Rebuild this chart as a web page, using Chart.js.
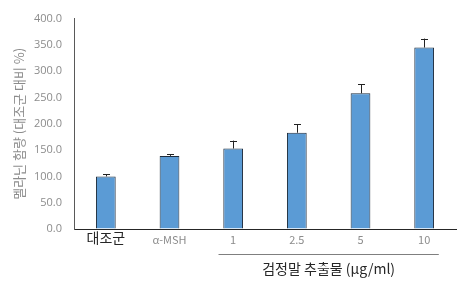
<!DOCTYPE html>
<html><head><meta charset="utf-8">
<script src="https://cdn.jsdelivr.net/npm/chart.js@4"></script>
<style>html,body{margin:0;padding:0;background:#fff}#wrap{width:470px;height:282px}</style>
</head><body><div id="wrap"><canvas id="c" width="470" height="282"></canvas></div>
<script>
const categories = ['대조군', 'α-MSH', '1', '2.5', '5', '10'];
const melaninValues = [100, 139, 153, 183, 258, 345];
const errorValues = [4, 3, 15, 16, 17, 17];
const yTicks = [0, 50, 100, 150, 200, 250, 300, 350, 400];
const yTitle = '멜라닌 함량 (대조군 대비 %)';
const groupLabel = '검정말 추출물 (μg/ml)';
const groupStart = 2, groupEnd = 5;

const FONT = "'Noto Sans CJK KR', 'Open Sans', sans-serif";

const errorBars = {
  id: 'errorBars',
  afterDatasetsDraw(chart) {
    const ctx = chart.ctx, y = chart.scales.y;
    const meta = chart.getDatasetMeta(0);
    ctx.save();
    ctx.strokeStyle = '#222';
    ctx.lineWidth = 1;
    meta.data.forEach((bar, i) => {
      const x = Math.round(bar.x) + 0.5;
      const top = y.getPixelForValue(melaninValues[i]);
      const up = y.getPixelForValue(melaninValues[i] + errorValues[i]);
      ctx.beginPath();
      ctx.moveTo(x, top);
      ctx.lineTo(x, up);
      ctx.moveTo(x - 3.5, Math.round(up) + 0.5);
      ctx.lineTo(x + 3.5, Math.round(up) + 0.5);
      ctx.stroke();
    });
    ctx.restore();
  }
};

const groupPlugin = {
  id: 'groupPlugin',
  afterDraw(chart) {
    const ctx = chart.ctx, xs = chart.scales.x;
    const w = xs.getPixelForValue(1) - xs.getPixelForValue(0);
    const x1 = xs.getPixelForValue(groupStart) - w * 0.23;
    const x2 = xs.getPixelForValue(groupEnd) + w * 0.23;
    const ly = Math.round(xs.top + 25) + 0.5;
    ctx.save();
    ctx.strokeStyle = '#7f7f7f';
    ctx.lineWidth = 1;
    ctx.beginPath();
    ctx.moveTo(x1, ly);
    ctx.lineTo(x2, ly);
    ctx.stroke();
    ctx.fillStyle = '#262626';
    ctx.font = "14px " + FONT;
    ctx.textAlign = 'center';
    ctx.textBaseline = 'middle';
    ctx.fillText(groupLabel, (x1 + x2) / 2, xs.top + 40);
    ctx.restore();
  }
};

new Chart(document.getElementById('c'), {
  type: 'bar',
  data: {
    labels: categories,
    datasets: [{
      data: melaninValues,
      backgroundColor: '#5B9BD5',
      borderColor: '#1f2d3d',
      borderWidth: 1,
      borderSkipped: 'bottom',
      categoryPercentage: 1,
      barPercentage: 0.31
    }]
  },
  options: {
    responsive: false,
    animation: false,
    devicePixelRatio: 1,
    layout: { padding: { top: 13, right: 14, left: 0, bottom: 0 } },
    plugins: { legend: { display: false }, tooltip: { enabled: false } },
    scales: {
      x: {
        grid: { display: true, drawOnChartArea: false, drawTicks: false },
        border: { display: true, color: '#262626', width: 1 },
        afterFit(s) { s.height = 53; },
        ticks: {
          padding: 9,
          crossAlign: 'center',
          maxRotation: 0,
          autoSkip: false,
          font: (c) => c.index === 0 ? { size: 14, family: FONT } : { size: 11, family: FONT },
          color: (c) => c.index === 0 ? '#262626' : '#8c8c8c'
        }
      },
      y: {
        min: 0, max: 400,
        afterBuildTicks(s) { s.ticks = yTicks.map(v => ({ value: v })); },
        afterFit(s) { s.width = 74; },
        grid: { display: true, drawOnChartArea: false, drawTicks: false },
        border: { display: true, color: '#595959', width: 1 },
        ticks: {
          padding: 12,
          font: { size: 11, family: "'Open Sans', sans-serif" },
          color: '#8c8c8c',
          callback: (v) => Number(v).toFixed(1)
        },
        title: {
          display: true,
          text: yTitle,
          color: '#8c8c8c',
          font: { size: 13, family: FONT },
          padding: { top: 11, bottom: 0 }
        }
      }
    }
  },
  plugins: [errorBars, groupPlugin]
});
</script>
</body></html>
